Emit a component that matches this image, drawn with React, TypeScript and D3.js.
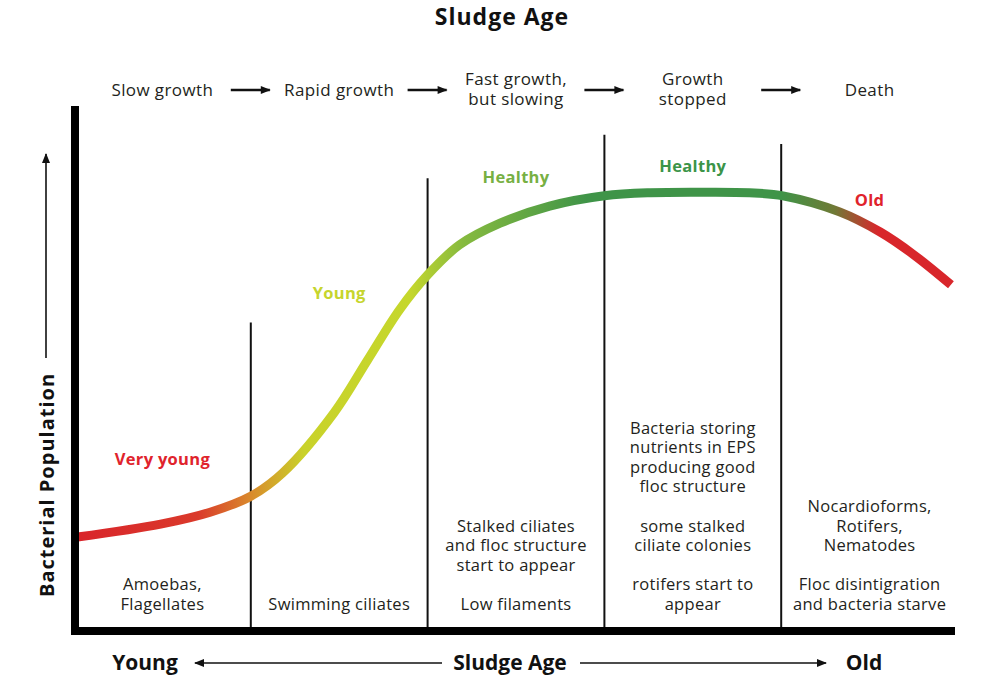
import React, { useRef, useEffect } from 'react';
import * as d3 from 'd3';

// Growth curve (sludge age in phase units 0..5, bacterial population 0..100)
const curveAge = [0.02, 0.49, 0.77, 1.0, 1.18, 1.47, 1.66, 1.84, 2.0, 2.18, 2.41, 2.69, 3.0, 3.26, 3.54, 3.82, 4.01, 4.33, 4.56, 4.75, 4.96];
const curvePop = [17.4, 19.9, 22.2, 25.3, 29.8, 41.4, 51.6, 61.3, 68.1, 73.9, 78.1, 81.4, 83.4, 84.0, 84.1, 84.0, 83.4, 80.3, 76.4, 72.0, 66.2];

// Gradient colours along the curve
const gradAge = [0.0, 0.7, 1.0, 1.3, 1.9, 2.2, 2.9, 4.0, 4.3, 4.55, 5.0];
const gradColor = ['#d9242b', '#da3a2b', '#d98a2c', '#c9d22a', '#c5d72c', '#86ba3f', '#3f9448', '#3f9448', '#6f7a36', '#d8262b', '#d8262b'];

// Phase boundaries (vertical lines) and how high they reach
const boundaries = [1, 2, 3, 4];
const boundaryTop = [58.9, 86.8, 95.2, 93.4];

const phaseTitles = [['Slow growth'], ['Rapid growth'], ['Fast growth,', 'but slowing'], ['Growth', 'stopped'], ['Death']];
const stageLabels = ['Very young', 'Young', 'Healthy', 'Healthy', 'Old'];
const stageColors = ['#e0232c', '#c6d52d', '#77b043', '#3b9448', '#e0232c'];
const stagePop = [32.4, 64.6, 87.0, 89.1, 82.6];

const organisms = [
  ['Amoebas,', 'Flagellates'],
  ['Swimming ciliates'],
  ['Stalked ciliates', 'and floc structure', 'start to appear', '', 'Low filaments'],
  ['Bacteria storing', 'nutrients in EPS', 'producing good', 'floc structure', '', 'some stalked', 'ciliate colonies', '', 'rotifers start to', 'appear'],
  ['Nocardioforms,', 'Rotifers,', 'Nematodes', '', 'Floc disintigration', 'and bacteria starve'],
];

const WIDTH = 1000;
const HEIGHT = 675;
const FONT = "'Open Sans', 'Noto Sans', sans-serif";

const App: React.FC = () => {
  const svgRef = useRef<SVGSVGElement>(null);

  useEffect(() => {
    if (!svgRef.current) return;
    const svg = d3.select(svgRef.current);
    svg.selectAll('*').remove();

    const x = d3.scaleLinear().domain([0, 5]).range([74, 958]);
    const y = d3.scaleLinear().domain([0, 100]).range([627, 110]);
    const axisY = 631;
    const textColor = '#231f20';

    const defs = svg.append('defs');

    // arrow marker
    defs.append('marker')
      .attr('id', 'arrowHead')
      .attr('viewBox', '0 0 10 10')
      .attr('refX', 9)
      .attr('refY', 5)
      .attr('markerWidth', 11)
      .attr('markerHeight', 10)
      .attr('markerUnits', 'userSpaceOnUse')
      .attr('orient', 'auto')
      .append('path')
      .attr('d', 'M0,1 L10,5 L0,9 Z')
      .attr('fill', '#111');

    const grad = defs.append('linearGradient')
      .attr('id', 'curveGrad')
      .attr('gradientUnits', 'userSpaceOnUse')
      .attr('x1', x(0)).attr('y1', 0)
      .attr('x2', x(5)).attr('y2', 0);
    gradAge.forEach((a, i) => {
      grad.append('stop').attr('offset', a / 5).attr('stop-color', gradColor[i]);
    });

    // Title
    svg.append('text')
      .attr('x', 502).attr('y', 25)
      .attr('text-anchor', 'middle')
      .style('font-family', FONT)
      .style('font-size', '23px')
      .style('font-weight', 'bold')
      .style('letter-spacing', '1px')
      .style('fill', '#111')
      .text('Sludge Age');

    // Phase titles along the top, with arrows between them
    const phaseX = d3.range(5).map(i => x(i + 0.5));
    phaseTitles.forEach((lines, i) => {
      const t = svg.append('text')
        .attr('text-anchor', 'middle')
        .style('font-family', FONT)
        .style('font-size', '17px')
        .style('letter-spacing', '0.4px')
        .style('fill', textColor);
      const startY = lines.length === 1 ? 96 : 85;
      lines.forEach((l, j) => {
        t.append('tspan').attr('x', phaseX[i]).attr('y', startY + j * 20).text(l);
      });
    });
    boundaries.forEach(b => {
      svg.append('line')
        .attr('x1', x(b) - 20).attr('x2', x(b) + 19)
        .attr('y1', 90).attr('y2', 90)
        .attr('stroke', '#111')
        .attr('stroke-width', 2.5)
        .attr('marker-end', 'url(#arrowHead)');
    });

    // Phase boundary lines
    boundaries.forEach((b, i) => {
      svg.append('line')
        .attr('x1', x(b)).attr('x2', x(b))
        .attr('y1', y(boundaryTop[i])).attr('y2', axisY)
        .attr('stroke', '#111')
        .attr('stroke-width', 2);
    });

    // Organism notes in each column, bottom aligned
    organisms.forEach((lines, i) => {
      const t = svg.append('text')
        .attr('text-anchor', 'middle')
        .style('font-family', FONT)
        .style('font-size', '16.5px')
        .style('letter-spacing', '0.3px')
        .style('fill', textColor);
      const lastY = 610;
      lines.forEach((l, j) => {
        t.append('tspan')
          .attr('x', phaseX[i])
          .attr('y', lastY - (lines.length - 1 - j) * 19.6)
          .text(l);
      });
    });

    // Growth curve
    const line = d3.line<number>()
      .x((_, i) => x(curveAge[i]))
      .y(d => y(d))
      .curve(d3.curveCatmullRom.alpha(0.5));
    svg.append('path')
      .attr('d', line(curvePop))
      .attr('fill', 'none')
      .attr('stroke', 'url(#curveGrad)')
      .attr('stroke-width', 9);

    // Stage labels
    stageLabels.forEach((s, i) => {
      svg.append('text')
        .attr('x', phaseX[i])
        .attr('y', y(stagePop[i]) + 6)
        .attr('text-anchor', 'middle')
        .style('font-family', FONT)
        .style('font-size', '16.5px')
        .style('font-weight', 'bold')
        .style('letter-spacing', '0.3px')
        .style('fill', stageColors[i])
        .text(s);
    });

    // Axes (thick bars)
    svg.append('rect')
      .attr('x', 71).attr('y', 106)
      .attr('width', 8).attr('height', axisY + 4 - 106)
      .attr('fill', '#000');
    svg.append('rect')
      .attr('x', 71).attr('y', 627)
      .attr('width', 884).attr('height', 8)
      .attr('fill', '#000');

    // Y axis label with arrow
    svg.append('text')
      .attr('transform', 'translate(54, 485) rotate(-90)')
      .attr('text-anchor', 'middle')
      .style('font-family', FONT)
      .style('font-size', '20px')
      .style('font-weight', 'bold')
      .style('letter-spacing', '1px')
      .style('fill', '#111')
      .text('Bacterial Population');
    svg.append('line')
      .attr('x1', 46).attr('x2', 46)
      .attr('y1', 358).attr('y2', 154)
      .attr('stroke', '#111')
      .attr('stroke-width', 1.6)
      .attr('marker-end', 'url(#arrowHead)');

    // Bottom sludge age axis
    const bottom = [
      { label: 'Young', cx: 145 },
      { label: 'Sludge Age', cx: 510 },
      { label: 'Old', cx: 864 },
    ];
    bottom.forEach(d => {
      svg.append('text')
        .attr('x', d.cx).attr('y', 670)
        .attr('text-anchor', 'middle')
        .style('font-family', FONT)
        .style('font-size', '21px')
        .style('font-weight', 'bold')
        .style('fill', '#111')
        .text(d.label);
    });
    svg.append('line')
      .attr('x1', 442).attr('x2', 195)
      .attr('y1', 663).attr('y2', 663)
      .attr('stroke', '#111').attr('stroke-width', 1.6)
      .attr('marker-end', 'url(#arrowHead)');
    svg.append('line')
      .attr('x1', 580).attr('x2', 826)
      .attr('y1', 663).attr('y2', 663)
      .attr('stroke', '#111').attr('stroke-width', 1.6)
      .attr('marker-end', 'url(#arrowHead)');
  }, []);

  return (
    <svg
      ref={svgRef}
      width={WIDTH}
      height={HEIGHT}
      style={{ position: 'absolute', left: 0, top: 0, background: '#fff' }}
    />
  );
};

export default App;
